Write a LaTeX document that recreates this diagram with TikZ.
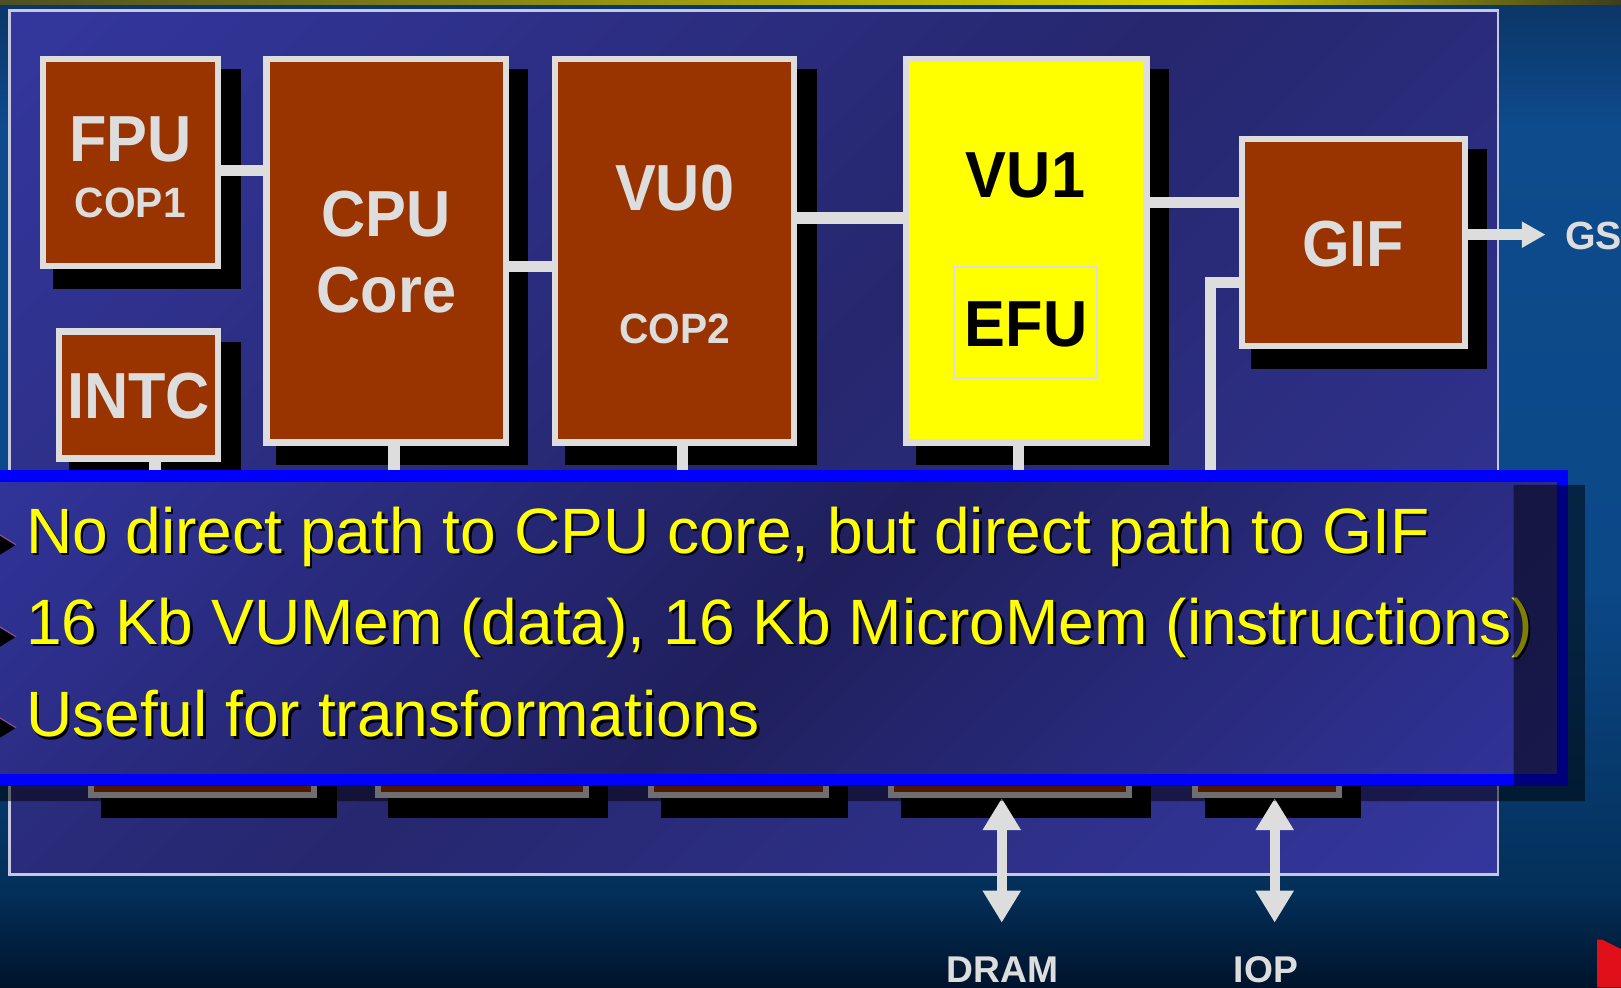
\documentclass[tikz,border=0pt]{standalone}
\usepackage{fontspec}
\setmainfont{Liberation Sans}
\usetikzlibrary{arrows.meta,calc}

% palette
\definecolor{bgA}{HTML}{0B3566}
\definecolor{bgB}{HTML}{0D4B8C}
\definecolor{bgC}{HTML}{0C4888}
\definecolor{bgD}{HTML}{03305A}
\definecolor{bgE}{HTML}{00132B}
\definecolor{olA}{HTML}{4E4F22}
\definecolor{olB}{HTML}{D6D200}
\definecolor{olC}{HTML}{3D3D1D}
\definecolor{pnL}{HTML}{34379E}
\definecolor{pnD}{HTML}{26276E}
\definecolor{ovL}{HTML}{31349A}
\definecolor{ovD}{HTML}{1F1F5C}
\definecolor{ovblue}{HTML}{0000FF}
\definecolor{rust}{HTML}{993300}
\definecolor{lgrey}{HTML}{DDDDDD}
\definecolor{hotyellow}{HTML}{FFFF00}
\definecolor{tabred}{HTML}{E0101A}
\definecolor{bulletedge}{HTML}{8A4A9A}

\pgfdeclarelayer{backdrop}
\pgfdeclarelayer{shadows}
\pgfdeclarelayer{wires}
\pgfsetlayers{backdrop,shadows,wires,main}

\tikzset{
  unitbox/.style={draw=lgrey, line width=6pt, fill=rust, inner sep=0pt},
  hotbox/.style={unitbox, fill=hotyellow},
  subbox/.style={draw=lgrey, line width=2pt, inner sep=0pt},
  wire/.style={draw=lgrey, line width=11pt},
  bigtag/.style={anchor=base, inner sep=0pt, text=lgrey, xscale=0.94,
    font=\bfseries\fontsize{63}{70}\selectfont},
  smalltag/.style={anchor=base, inner sep=0pt, text=lgrey, xscale=0.96,
    font=\bfseries\fontsize{41}{46}\selectfont},
  porttag/.style={inner sep=0pt, text=lgrey, font=\bfseries\fontsize{36}{40}\selectfont},
  pointtext/.style={anchor=base west, inner sep=0pt, text=hotyellow,
    font=\fontsize{62}{70}\selectfont},
  pointshade/.style={pointtext, text=black},
  dblarrow/.style={draw=lgrey, line width=10pt,
    {Triangle[length=31pt,width=35pt]}-{Triangle[length=31pt,width=35pt]}},
  outarrow/.style={draw=lgrey, line width=11pt, -{Triangle[length=23pt,width=24pt]}},
}

\begin{document}
\begin{tikzpicture}[x=1pt,y=-1pt]
\useasboundingbox (0,0) rectangle (1568,955);

% ---------- backdrop ----------
\begin{pgfonlayer}{backdrop}
  \shade[top color=bgA, bottom color=bgB] (0,0) rectangle (1568,121);
  \shade[top color=bgB, bottom color=bgC] (0,120) rectangle (1568,561);
  \shade[top color=bgC, bottom color=bgD] (0,560) rectangle (1568,861);
  \shade[top color=bgD, bottom color=bgE] (0,860) rectangle (1568,955);
  % thin rule along the top edge
  \shade[left color=olA, right color=olB] (0,0) rectangle (1151,4);
  \shade[left color=olB, right color=olC] (1150,0) rectangle (1568,4);
  % chip panel, diagonal light-dark-light gradient
  \begin{scope}
    \clip (9.3,10.3) rectangle (1449,846);
    \begin{scope}[transform canvas={rotate around={45:(729.15,428.15)}}]
      \shade[top color=pnL, bottom color=pnL, middle color=pnD]
        (-90.85,-391.85) rectangle (1549.15,1248.15);
    \end{scope}
  \end{scope}
  \draw[draw=lgrey!90!blue, line width=2.5pt] (9.3,10.3) rectangle (1449,846);
  % corner tab
  \fill[tabred] (1545,909) -- (1550,909) -- (1568,918) -- (1568,955) -- (1545,955) -- cycle;
\end{pgfonlayer}

% ---------- units ----------
\node[unitbox, minimum width=169.9pt, minimum height=200.5pt] (fpu)  at (126.25,157.25) {};
\node[unitbox, minimum width=231.9pt, minimum height=371pt]   (cpu)  at (373.75,242.5) {};
\node[unitbox, minimum width=154.2pt, minimum height=123pt]   (intc) at (134.1,382.1) {};
\node[unitbox, minimum width=231.7pt, minimum height=371pt]   (vu0)  at (652.45,242.5) {};
\node[hotbox,  minimum width=232.5pt, minimum height=371pt]   (vu1)  at (992.75,242.5) {};
\node[subbox,  minimum width=138pt,   minimum height=107.7pt] (efu)  at (992,311.85) {};
\node[unitbox, minimum width=216pt,   minimum height=200.2pt] (gif)  at (1309,234.7) {};

% lower row of units
\node[unitbox, minimum width=216pt, minimum height=146pt] (bus1) at (196,696) {};
\node[unitbox, minimum width=201pt, minimum height=146pt] (bus2) at (466.5,696) {};
\node[unitbox, minimum width=169pt, minimum height=146pt] (bus3) at (714.5,696) {};
\node[unitbox, minimum width=230pt, minimum height=146pt] (bus4) at (977,696) {};
\node[unitbox, minimum width=139pt, minimum height=146pt] (bus5) at (1225.5,696) {};

% drop shadows
\begin{pgfonlayer}{shadows}
  \foreach \n in {fpu,cpu,intc,vu0,vu1,gif,bus1,bus2,bus3,bus4,bus5}
    \fill[black] ($(\n.north west)+(12.5,13)$) rectangle ($(\n.south east)+(18.5,19)$);
\end{pgfonlayer}

% labels
\node[bigtag]   (fpulab)  at (126,156.4)   {FPU};
\node[smalltag] (cop1lab) at (126,210)     {COP1};
\node[bigtag]   (cpulab)  at (373.7,229)   {CPU};
\node[bigtag]   (corelab) at (373.7,302.5) {Core};
\node[bigtag]   (intclab) at (134,404.5)   {INTC};
\node[bigtag]   (vu0lab)  at (652.5,203.5) {VU0};
\node[smalltag] (cop2lab) at (652.5,332)   {COP2};
\node[bigtag, text=black] (vu1lab) at (992,191.5) {VU1};
\node[bigtag, text=black] (efulab) at (992.5,335) {EFU};
\node[bigtag]   (giflab)  at (1309,257.5)  {GIF};
\node[porttag, anchor=base west, font=\bfseries\fontsize{38}{42}\selectfont] (gs) at (1514,241) {GS};
\node[porttag, anchor=base] (dram) at (969.5,950.5) {DRAM};
\node[porttag, anchor=base] (iop)  at (1224.5,950.5) {IOP};

% ---------- wires ----------
\coordinate (lvlA) at (0,165);
\coordinate (lvlB) at (0,258);
\coordinate (lvlC) at (0,211);
\coordinate (lvlD) at (0,196);
\coordinate (lvlE) at (0,273);
\coordinate (lvlF) at (0,227);
\coordinate (colA) at (150,0);
\coordinate (colB) at (381,0);
\coordinate (colC) at (660,0);
\coordinate (colD) at (985,0);
\coordinate (colE) at (1171,0);
\coordinate (dramtip) at (969,892.5);
\coordinate (ioptip)  at (1233,892.5);

\begin{pgfonlayer}{wires}
  \draw[wire] (fpu.east |- lvlA) -- (cpu.west |- lvlA);
  \draw[wire] (cpu.east |- lvlB) -- (vu0.west |- lvlB);
  \draw[wire] (vu0.east |- lvlC) -- (vu1.west |- lvlC);
  \draw[wire] (vu1.east |- lvlD) -- (gif.west |- lvlD);
  \draw[wire] (intc.south -| colA) -- (bus1.north -| colA);
  \draw[wire] (cpu.south -| colB)  -- (bus2.north -| colB);
  \draw[wire] (vu0.south -| colC)  -- (bus3.north -| colC);
  \draw[wire] (vu1.south -| colD)  -- (bus4.north -| colD);
  \draw[wire] (gif.west |- lvlE) -| (bus5.north -| colE);
\end{pgfonlayer}

\draw[outarrow, shorten >=19pt] (gif.east |- lvlF) -- (gs.west |- lvlF);
\draw[dblarrow] (bus4.south -| dramtip) -- (dramtip);
\draw[dblarrow] (bus5.south -| ioptip) -- (ioptip);

% ---------- text panel ----------
\fill[ovblue] (0,455) rectangle (1517,760);
\begin{scope}
  \clip (0,467) rectangle (1506,748);
  \begin{scope}[transform canvas={rotate around={45:(753,607.5)}}]
    \shade[top color=ovL, bottom color=ovL, middle color=ovD]
      (113,-32.5) rectangle (1393,1247.5);
  \end{scope}
\end{scope}

\node[pointshade] (p1s) at (27.5,537.5) {No direct path to CPU core, but direct path to GIF};
\node[pointtext]  (p1)  at (25,535)     {No direct path to CPU core, but direct path to GIF};
\node[pointshade] (p2s) at (27.5,625.5) {16 Kb VUMem (data), 16 Kb MicroMem (instructions)};
\node[pointtext]  (p2)  at (25,623)     {16 Kb VUMem (data), 16 Kb MicroMem (instructions)};
\node[pointshade] (p3s) at (27.5,715)   {Useful for transformations};
\node[pointtext]  (p3)  at (25,712.5)   {Useful for transformations};

% bullet arrowheads at the left edge
\foreach \yb in {527,616,704}{
  \fill[black] (-4,\yb-12) -- (15.5,\yb) -- (-4,\yb+12) -- cycle;
  \draw[bulletedge, line width=1.2pt] (-4,\yb-12) -- (15.5,\yb);
}

% panel shadow
\fill[black, opacity=0.5] (1464,469) -- (1533,469) -- (1533,775) -- (0,775)
  -- (0,760) -- (1464,760) -- cycle;

\end{tikzpicture}
\end{document}
